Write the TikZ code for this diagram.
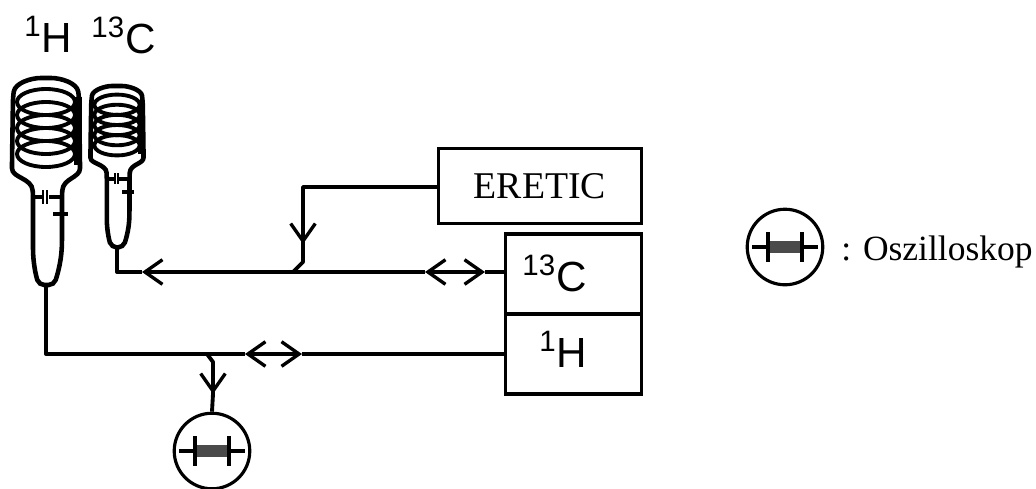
\documentclass[tikz,border=0pt]{standalone}
\usepackage{fontspec}
\setmainfont{Liberation Serif}
\newfontfamily\labelfont{Liberation Sans}
\usetikzlibrary{arrows.meta}
\definecolor{scopeGray}{HTML}{4A4A4A}
\newcommand{\isotope}[2]{\textsuperscript{#1}#2}

\tikzset{
  wire/.style={line width=2.2pt, line join=round},
  barb/.tip={Straight Barb[length=10pt, width=14pt, line width=1.9pt]},
  devicebox/.style={draw, line width=1.9pt, align=center, inner sep=0pt},
  isolabel/.style={font=\fontsize{24}{26}\selectfont\labelfont, inner sep=0pt},
  scopecircle/.style={draw, circle, line width=1.8pt, minimum size=43pt, inner sep=0pt},
  probe/.pic={
    \foreach \ypos in {24,37,50,63,76}
      \draw[line width=2.2pt] (0,\ypos) ellipse [x radius=29, y radius=13];
    \draw[line width=2.6pt, rounded corners=3pt]
      (-33,19) .. controls (-31,5) and (-15,0) .. (0,0)
      .. controls (15,0) and (31,5) .. (33,19)
      -- (34,85) .. controls (34,100) and (17,100) .. (16,118)
      -- (16,165) .. controls (15,185) and (11,198) .. (8,207)
      -- (-7,207) .. controls (-10,198) and (-13,185) .. (-13,165)
      -- (-13,118) .. controls (-14,100) and (-34,100) .. (-34,85) -- cycle;
    \draw[line width=4pt] (32,19) -- (32,87);
    \draw[line width=2.4pt] (-13,119) -- (-3,119) (3,119) -- (16,119);
    \draw[line width=1.2pt] (-3,112) -- (-3,126) (1,112) -- (1,126);
    \draw[line width=2pt] (7,136) -- (22,136);
    \coordinate (-foot) at (0,207);
  },
  scopesymbol/.pic={
    \draw[line width=2pt] (-33,0) -- (33,0);
    \fill[scopeGray] (-17,-6) rectangle (17,6);
    \draw[line width=2.2pt] (-17,-15) -- (-17,15) (17,-15) -- (17,15);
  }
}

\begin{document}
\begin{tikzpicture}[x=0.02cm, y=-0.02cm]
\useasboundingbox (0,0) rectangle (1036,488);

% probes
\node[isolabel, anchor=base west] (hlabel) at (24,52) {\isotope{1}{H}};
\node[isolabel, anchor=base west] (clabel) at (91,53) {\isotope{13}{C}};
\pic (hprobe) at (46,78) {probe};
\pic[scale=.78] (cprobe) at (117,86) {probe};

% boxes
\node[devicebox, minimum width=115.6pt, minimum height=43pt, font=\fontsize{21.5}{24}\selectfont] (eretic) at (540,186) {ERETIC};
\node[devicebox, minimum width=77.7pt, minimum height=45.4pt] (cbox) at (573.5,274) {};
\node[devicebox, minimum width=77.7pt, minimum height=45.4pt] (hbox) at (573.5,354) {};
\node[isolabel, anchor=base west] (ctext) at (522,291) {\isotope{13}{C}};
\node[isolabel, anchor=base west] (htext) at (539,367) {\isotope{1}{H}};

% scope
\node[scopecircle] (scope) at (212,451) {};
\pic at (scope) {scopesymbol};
\node[scopecircle] (legend) at (785,247) {};
\pic at (legend) {scopesymbol};
\node[anchor=base west, inner sep=0pt, font=\fontsize{20.2}{24}\selectfont] (legendtext) at (841,260) {: Oszilloskop};

% helper points on the wires
\coordinate (ctipa) at (142,272);
\coordinate (ctipb) at (425,272);
\coordinate (ctipc) at (485,272);
\coordinate (htipa) at (245,354);
\coordinate (htipb) at (302,354);
\coordinate (jointe) at (293,272);
\coordinate (jointo) at (207,354);
\coordinate (etip) at (303,244);
\coordinate (otip) at (213,394);

% wires
\draw[wire] (eretic.west |- 0,187) -| (etip);
\draw[wire, -barb] (303,187) -- (etip);
\draw[wire] (etip) -- (303,262) -- (jointe);

\draw[wire] (cbox.west |- ctipc) -- (ctipc);
\draw[wire, barb-barb] (ctipb) -- (ctipc);
\draw[wire, -barb] (ctipb) -- (ctipa);
\draw[wire] (ctipa) -| (cprobe-foot);

\draw[wire] (hbox.west) -- (htipb);
\draw[wire, barb-barb] (htipa) -- (htipb);
\draw[wire] (htipa) -| (hprobe-foot);

\draw[wire] (jointo) -- (213,362) -- (otip);
\draw[wire, -barb] (213,362) -- (otip);
\draw[wire] (otip) -- (scope.north);

\end{tikzpicture}
\end{document}
